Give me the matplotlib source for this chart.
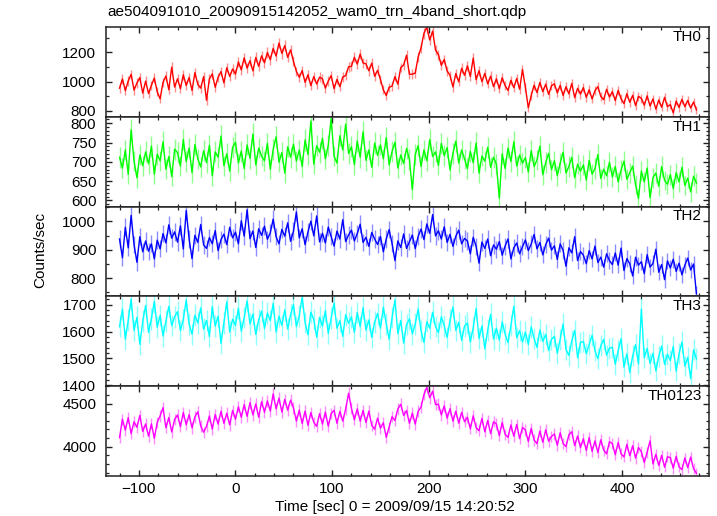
'''
WAM TRN light curve, 4 bands, re-drawn from the qdp plot
'''

import numpy as np
import matplotlib
matplotlib.use("Agg")
import matplotlib.pyplot as plt
from matplotlib.ticker import MultipleLocator

plt.rcParams['font.family'] = ['Liberation Sans', 'DejaVu Sans']
plt.rcParams['font.size'] = 11

TITLE = "ae504091010_20090915142052_wam0_trn_4band_short.qdp"
XLABEL = "Time [sec] 0 = 2009/09/15 14:20:52"
YLABEL = "Counts/sec"

# time bins (sec), 3 s apart
time_start, time_stop, time_bin = -120, 478, 3

th0 = [
    955, 1018, 938, 1004, 1049, 942, 990, 1027, 921, 1003,
    918, 975, 1024, 930, 882, 995, 1038, 944, 1098, 962,
    1019, 951, 1046, 973, 1028, 939, 1061, 981, 955, 1034,
    872, 1019, 1052, 961, 1029, 1068, 991, 1095, 1035, 1086,
    1051, 1134, 1079, 1162, 1092, 1143, 1073, 1165, 1104, 1176,
    1128, 1199, 1149, 1227, 1174, 1263, 1192, 1246, 1165, 1217,
    1138, 1070, 1029, 1075, 995, 1046, 972, 1034, 983, 1030,
    1018, 955, 1004, 1040, 951, 1015, 965, 1031, 1041, 1101,
    1104, 1166, 1119, 1188, 1127, 1121, 1074, 1126, 1036, 1077,
    1015, 943, 905, 961, 969, 1034, 982, 1096, 1113, 1180,
    1049, 1051, 1058, 1167, 1231, 1330, 1372, 1284, 1345, 1215,
    1184, 1111, 1151, 1072, 1043, 963, 1055, 998, 1091, 1043,
    1108, 1035, 1160, 1013, 1074, 999, 1056, 984, 1037, 965,
    1019, 951, 1026, 972, 939, 1009, 958, 1021, 947, 1082,
    961, 821, 904, 975, 925, 994, 931, 982, 912, 971,
    985, 923, 974, 905, 965, 916, 987, 890, 954, 914,
    959, 892, 944, 881, 938, 965, 899, 876, 947, 894,
    931, 870, 940, 883, 849, 917, 858, 906, 835, 899,
    885, 838, 902, 833, 881, 811, 874, 824, 892, 829,
    842, 786, 866, 823, 879, 828, 871, 819, 860, 806,
]

th1 = [
    712, 684, 731, 668, 783, 702, 659, 718, 690, 726,
    695, 741, 668, 720, 703, 752, 681, 714, 662, 733,
    724, 689, 758, 701, 736, 672, 745, 708, 687, 729,
    698, 743, 664, 726, 712, 767, 690, 721, 676, 738,
    751, 697, 728, 683, 744, 709, 772, 692, 736, 715,
    703, 748, 681, 733, 765, 699, 724, 671, 739, 712,
    746, 702, 731, 688, 757, 719, 806, 694, 742, 725,
    761, 708, 743, 812, 715, 697, 768, 731, 798, 722,
    739, 693, 754, 712, 778, 704, 731, 686, 749, 717,
    744, 708, 763, 692, 727, 751, 684, 718, 696, 735,
    706, 628, 719, 742, 688, 731, 703, 758, 714, 726,
    691, 748, 716, 737, 679, 722, 754, 697, 731, 708,
    683, 727, 698, 749, 671, 715, 702, 738, 686, 712,
    694, 606, 721, 683, 736, 701, 752, 689, 718, 697,
    711, 674, 729, 688, 705, 741, 667, 698, 722, 680,
    703, 664, 697, 725, 671, 688, 712, 659, 694, 676,
    692, 653, 704, 668, 683, 719, 657, 681, 664, 699,
    661, 688, 648, 679, 702, 655, 672, 689, 641, 605,
    676, 648, 684, 607, 659, 671, 637, 688, 652, 642,
    667, 631, 672, 648, 686, 639, 658, 622, 663, 645,
]

th2 = [
    938, 872, 979, 907, 1021, 918, 856, 946, 893, 931,
    895, 921, 868, 934, 903, 957, 924, 988, 941, 963,
    927, 984, 903, 1038, 938, 869, 951, 926, 989, 917,
    905, 943, 921, 968, 897, 936, 955, 918, 979, 942,
    962, 921, 1002, 948, 1041, 939, 966, 908, 974, 951,
    983, 937, 960, 1008, 946, 921, 972, 948, 995, 930,
    965, 1033, 942, 974, 918, 963, 1001, 949, 1019, 928,
    958, 924, 980, 947, 913, 966, 938, 1006, 929, 952,
    969, 931, 957, 990, 926, 944, 912, 961, 938, 919,
    947, 893, 938, 971, 922, 862, 931, 908, 956, 905,
    928, 952, 904, 947, 973, 936, 991, 958, 1024, 949,
    967, 938, 981, 926, 954, 912, 948, 969, 921, 940,
    931, 886, 944, 912, 853, 927, 905, 938, 879, 917,
    902, 929, 881, 913, 938, 868, 907, 924, 886, 911,
    935, 897, 920, 954, 903, 926, 882, 918, 941, 899,
    914, 866, 921, 898, 842, 907, 889, 946, 862, 894,
    881, 851, 897, 868, 913, 855, 874, 839, 886, 862,
    848, 889, 846, 906, 827, 869, 851, 808, 874, 846,
    858, 816, 883, 839, 852, 902, 821, 848, 795, 861,
    836, 867, 824, 853, 812, 846, 871, 829, 850, 745,
]

th3 = [
    1618, 1684, 1571, 1642, 1721, 1604, 1653, 1552, 1638, 1697,
    1597, 1648, 1712, 1616, 1660, 1583, 1639, 1694, 1622, 1655,
    1674, 1603, 1645, 1718, 1627, 1590, 1661, 1632, 1688, 1609,
    1641, 1581, 1693, 1620, 1657, 1556, 1633, 1711, 1598, 1646,
    1623, 1687, 1601, 1652, 1714, 1628, 1665, 1589, 1644, 1676,
    1612, 1669, 1641, 1705, 1598, 1657, 1623, 1681, 1609, 1662,
    1701, 1618, 1659, 1729, 1634, 1588, 1672, 1645, 1579, 1653,
    1620, 1678, 1593, 1649, 1706, 1612, 1640, 1582, 1663, 1631,
    1654, 1597, 1671, 1618, 1689, 1605, 1643, 1578, 1635, 1667,
    1612, 1690, 1629, 1571, 1652, 1718, 1592, 1641, 1557, 1626,
    1647, 1591, 1628, 1684, 1602, 1559, 1637, 1612, 1672, 1618,
    1596, 1655, 1621, 1578, 1642, 1691, 1604, 1634, 1567, 1620,
    1632, 1561, 1614, 1686, 1574, 1621, 1536, 1605, 1664, 1572,
    1612, 1568, 1636, 1591, 1559, 1622, 1694, 1577, 1603, 1561,
    1598, 1552, 1617, 1574, 1541, 1606, 1563, 1589, 1529, 1571,
    1582, 1519, 1571, 1628, 1533, 1511, 1566, 1604, 1502, 1559,
    1563, 1517, 1552, 1586, 1528, 1499, 1547, 1571, 1512, 1538,
    1541, 1478, 1529, 1573, 1468, 1517, 1447, 1509, 1551, 1479,
    1684, 1502, 1537, 1481, 1519, 1453, 1508, 1546, 1477, 1515,
    1492, 1544, 1452, 1517, 1561, 1471, 1503, 1424, 1532, 1498,
]

th0123 = [
    4105, 4318, 4192, 4337, 4151, 4289, 4226, 4362, 4178, 4264,
    4122, 4265, 4098, 4281, 4356, 4452, 4219, 4338, 4171, 4315,
    4368, 4232, 4397, 4254, 4371, 4218, 4346, 4405, 4241, 4168,
    4236, 4355, 4204, 4373, 4262, 4409, 4271, 4388, 4253, 4421,
    4318, 4463, 4341, 4487, 4352, 4509, 4368, 4496, 4341, 4522,
    4398, 4531, 4412, 4612, 4437, 4563, 4401, 4548, 4423, 4539,
    4451, 4296, 4423, 4268, 4412, 4249, 4395, 4282, 4237, 4383,
    4262, 4401, 4238, 4383, 4421, 4271, 4409, 4296, 4437, 4618,
    4445, 4312, 4438, 4296, 4421, 4281, 4412, 4248, 4203, 4331,
    4214, 4279, 4108, 4226, 4348, 4303, 4439, 4491, 4362, 4418,
    4271, 4389, 4262, 4411, 4458, 4603, 4689, 4566, 4642, 4487,
    4491, 4368, 4472, 4331, 4439, 4296, 4412, 4273, 4398, 4289,
    4341, 4207, 4358, 4221, 4185, 4329, 4172, 4304, 4151, 4289,
    4263, 4128, 4281, 4144, 4108, 4252, 4121, 4259, 4093, 4224,
    4194, 4061, 4213, 4078, 4036, 4183, 4052, 4197, 4064, 4119,
    4148, 4017, 4162, 4038, 4001, 4139, 4173, 4012, 4124, 3992,
    4093, 3958, 4107, 3947, 4068, 3933, 4081, 3961, 3919, 4058,
    4036, 3907, 4051, 3918, 3882, 4027, 3896, 4012, 3868, 3991,
    3943, 3818, 3937, 4068, 3802, 3914, 3783, 3901, 3764, 3885,
    3874, 3752, 3889, 3768, 3736, 3871, 3759, 3881, 3747, 3694,
]

band_names = ["TH0", "TH1", "TH2", "TH3", "TH0123"]
band_colors = ["#ff0000", "#00ff00", "#0000ff", "#00ffff", "#ff00ff"]
band_ylims = [(759, 1373), (584, 817), (736, 1052), (1396, 1731), (3662, 4700)]
band_yticks = [(200, 100), (50, 10), (100, 50), (100, 20), (500, 100)]


def draw_band(ax, t, rate, name, color, ylim, yticks):
    rate = np.asarray(rate, dtype=float)
    err = np.sqrt(rate)  # poisson, 1 s exposure
    ax.errorbar(t, rate, yerr=err, fmt='none', ecolor=color, alpha=0.45, elinewidth=1.0)
    ax.plot(t, rate, color=color, lw=1.0)
    ax.set_ylim(ylim)
    ax.yaxis.set_major_locator(MultipleLocator(yticks[0]))
    ax.yaxis.set_minor_locator(MultipleLocator(yticks[1]))
    ax.text(0.988, 0.89, name, transform=ax.transAxes, ha='right', va='center', fontsize=11)


if __name__ == "__main__":
    t = np.arange(time_start, time_stop, time_bin)
    all_bands = [th0, th1, th2, th3, th0123]

    W, H = 717, 516
    fig = plt.figure(figsize=(W/100, H/100), dpi=100)
    left, right = 106/W, 709/W
    top, bottom = 1 - 27/H, 1 - 476/H
    panel_h = (top - bottom)/5

    axes = []
    for i_band in range(5):
        ax = fig.add_axes([left, top - (i_band+1)*panel_h, right - left, panel_h],
                          sharex=axes[0] if axes else None)
        draw_band(ax, t, all_bands[i_band], band_names[i_band], band_colors[i_band],
                  band_ylims[i_band], band_yticks[i_band])
        for sp in ax.spines.values():
            sp.set_linewidth(1.1)
            sp.set_color("#222222")
        ax.tick_params(which='both', direction='in', top=True, right=True, color="#222222")
        ax.tick_params(which='major', length=4.5, width=1.0, labelsize=11)
        ax.tick_params(axis='y', which='major', pad=7)
        ax.tick_params(axis='x', which='major', pad=4)
        ax.tick_params(which='minor', length=2.3, width=0.9)
        if i_band < 4:
            ax.tick_params(axis='x', labelbottom=False)
        axes.append(ax)

    axes[0].set_xlim(-134, 490)
    axes[0].xaxis.set_major_locator(MultipleLocator(100))
    axes[0].xaxis.set_minor_locator(MultipleLocator(20))

    fig.text(107/W, 1 - 12/H, TITLE, ha='left', va='center', fontsize=11)
    fig.text(395/W, 1 - 507/H, XLABEL, ha='center', va='center', fontsize=11)
    fig.text(40/W, 1 - 250/H, YLABEL, ha='center', va='center', rotation=90, fontsize=11)

    fig.savefig("out.png", dpi=100)
    plt.close()
